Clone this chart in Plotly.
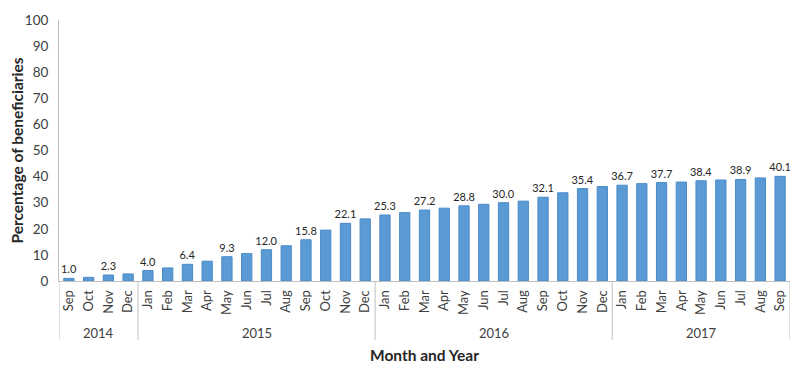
import plotly.graph_objects as go

years = ["2014"] * 4 + ["2015"] * 12 + ["2016"] * 12 + ["2017"] * 9
months = (["Sep", "Oct", "Nov", "Dec"]
          + ["Jan", "Feb", "Mar", "Apr", "May", "Jun", "Jul", "Aug", "Sep", "Oct", "Nov", "Dec"]
          + ["Jan", "Feb", "Mar", "Apr", "May", "Jun", "Jul", "Aug", "Sep", "Oct", "Nov", "Dec"]
          + ["Jan", "Feb", "Mar", "Apr", "May", "Jun", "Jul", "Aug", "Sep"])
values = [1.0, 1.4, 2.3, 2.7,
          4.0, 5.0, 6.4, 7.6, 9.3, 10.5, 12.0, 13.5, 15.8, 19.5, 22.1, 23.8,
          25.3, 26.2, 27.2, 27.9, 28.8, 29.4, 30.0, 30.6, 32.1, 33.8, 35.4, 36.2,
          36.7, 37.3, 37.7, 37.9, 38.4, 38.7, 38.9, 39.5, 40.1]
year_names = ["2014", "2015", "2016", "2017"]
labels = [f"{v:.1f}" if i % 2 == 0 else "" for i, v in enumerate(values)]

keys = [f"{y}-{m}" for y, m in zip(years, months)]

font_family = "Lato, Open Sans, sans-serif"
grey = "#BFBFBF"

fig = go.Figure(go.Bar(
    x=keys,
    y=values,
    text=labels,
    textposition="outside",
    constraintext="none",
    textfont=dict(size=11, color="#262626", family=font_family),
    cliponaxis=False,
    marker=dict(color="#5B9BD5", line=dict(color="#4A8AC9", width=1)),
))

# year group labels and dividers
shapes = []
annotations = []
start = 0
for yname in year_names:
    n = years.count(yname)
    end = start + n
    annotations.append(dict(
        x=(start + end - 1) / 2, xref="x", y=-0.199, yref="paper",
        text=yname, showarrow=False, yanchor="middle",
        font=dict(size=13, color="#404040", family=font_family),
    ))
    shapes.append(dict(type="line", xref="x", yref="paper",
                       x0=start - 0.5, x1=start - 0.5, y0=0, y1=-0.226,
                       line=dict(color=grey, width=1)))
    start = end
shapes.append(dict(type="line", xref="x", yref="paper",
                   x0=start - 0.5, x1=start - 0.5, y0=0, y1=-0.226,
                   line=dict(color=grey, width=1)))

annotations.append(dict(
    x=0.5, xref="paper", y=-0.284, yref="paper",
    text="<b>Month and Year</b>", showarrow=False, yanchor="middle",
    font=dict(size=15.5, color="#262626", family=font_family),
))

fig.update_layout(
    width=792, height=372,
    margin=dict(l=51, r=10, t=12, b=99),
    paper_bgcolor="white", plot_bgcolor="white",
    bargap=0.48,
    showlegend=False,
    font=dict(family=font_family, color="#595959", size=13),
    shapes=shapes,
    annotations=annotations,
)
fig.update_xaxes(
    type="category",
    range=[-0.5, len(keys) - 0.5],
    tickmode="array", tickvals=keys, ticktext=months,
    tickangle=-90,
    tickfont=dict(size=13, color="#404040"),
    ticklabelstandoff=3,
    showline=True, linecolor=grey, linewidth=1,
    ticks="", automargin=False,
)
fig.update_yaxes(
    range=[0, 100], dtick=10,
    showgrid=False, zeroline=False,
    showline=True, linecolor=grey, linewidth=1,
    ticks="", automargin=False,
    ticklabelstandoff=7,
    tickfont=dict(size=13.5, color="#404040"),
    title=dict(text="<b>Percentage of beneficiaries</b>", font=dict(size=15.5, color="#262626"), standoff=3),
)

fig.write_html("out.html")
